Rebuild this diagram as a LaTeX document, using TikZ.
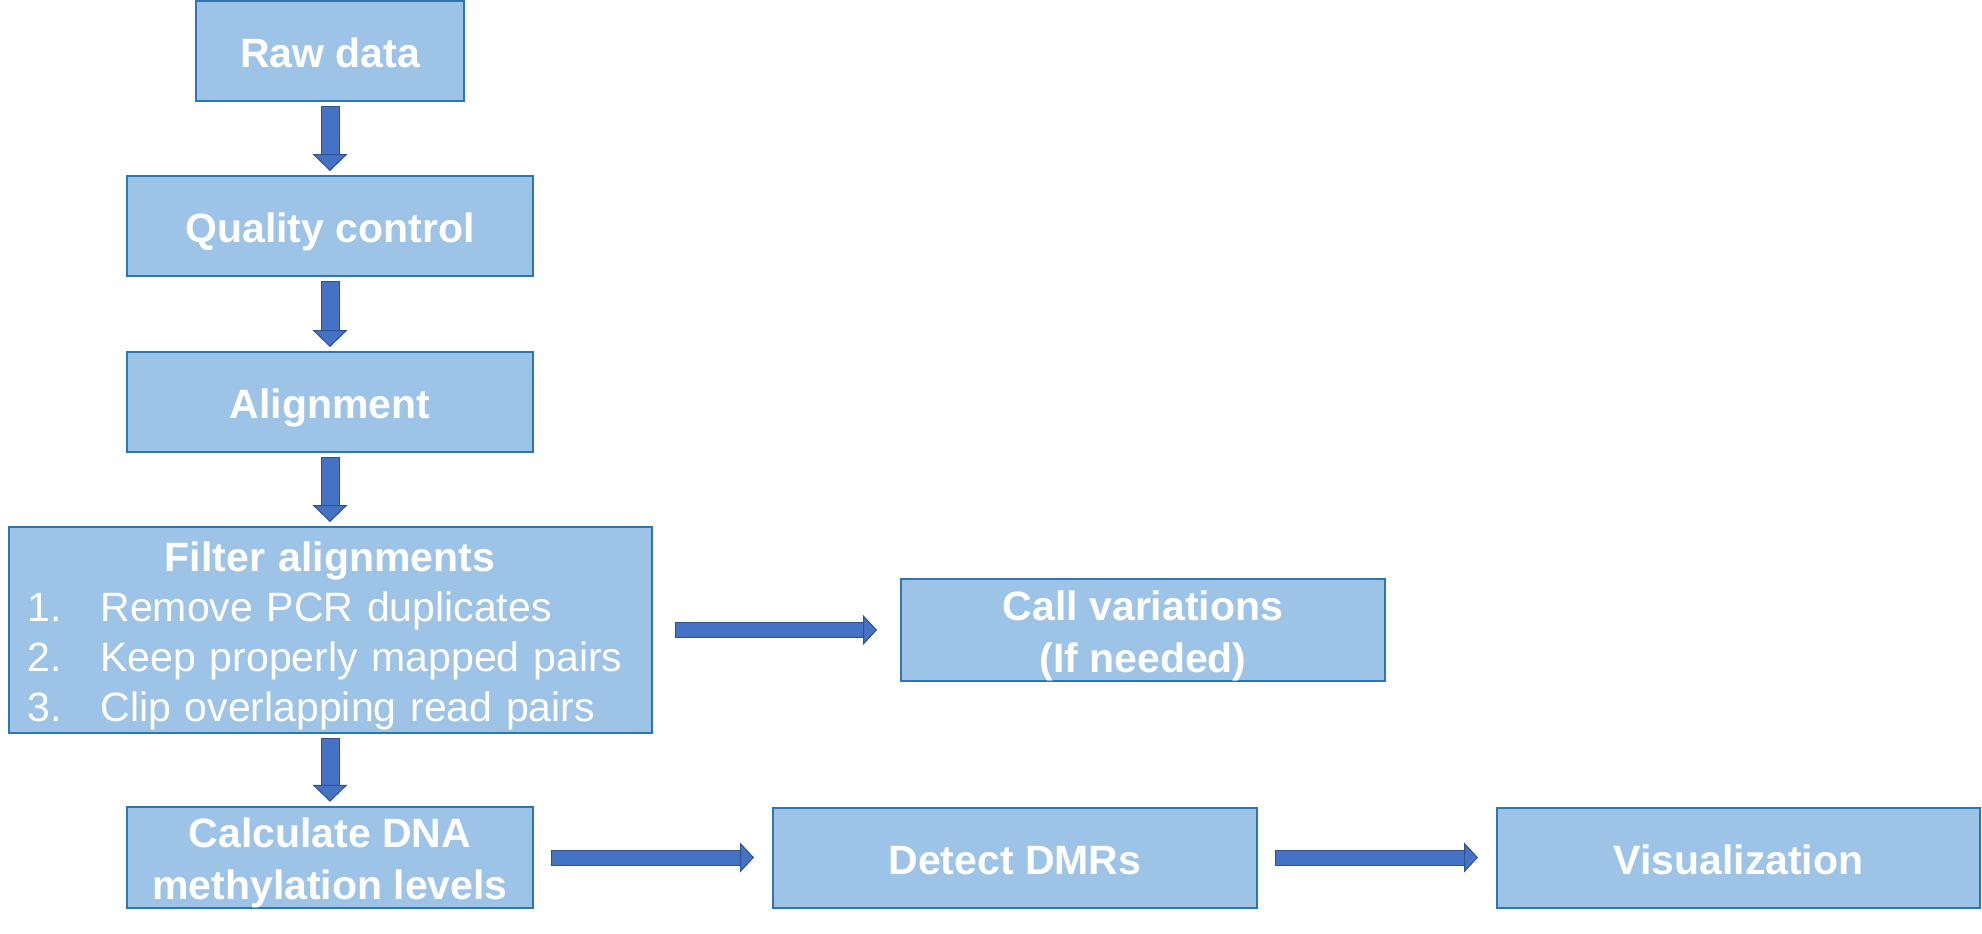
\documentclass[tikz,border=0pt]{standalone}
\usepackage{fontspec}
\setmainfont{Liberation Sans}
\usepackage{tikz}
\usetikzlibrary{arrows.meta}
\definecolor{boxfill}{RGB}{157,195,230}
\definecolor{boxline}{RGB}{46,117,182}
\definecolor{arrowfill}{RGB}{68,114,196}
\definecolor{arrowline}{RGB}{47,82,143}
\newcommand{\etai}{\rule[-8pt]{0pt}{49pt}}
\tikzstyle{bloc}=[
        rectangle,
        draw=boxline,
        line width=2pt,
        fill=boxfill,
        text=white,
        font=\fontsize{41}{52}\selectfont\bfseries,
        align=center,
        inner sep=0pt
]
\tikzstyle{liste}=[bloc,font=\fontsize{41}{50}\selectfont,align=left,text width=605pt,inner xsep=19pt]
\tikzstyle{fleche}=[draw=arrowfill,line width=17pt,shorten <=5pt,shorten >=4pt,
        -{Triangle[width=35pt,length=17pt,line width=1pt,color=arrowline,fill=arrowfill]},
        preaction={draw=arrowline,line width=19pt,arrows=-,shorten <=4pt,shorten >=20pt}]
\tikzset{flechedroite/.style={draw=arrowfill,line width=14pt,shorten <=#1,shorten >=#1,
        -{Triangle[width=30pt,length=14pt,line width=1pt,color=arrowline,fill=arrowfill]},
        preaction={draw=arrowline,line width=16pt,arrows=-,shorten <=#1-1pt,shorten >=#1+13pt}},
        flechedroite/.default=18pt}

\begin{document}
\begin{tikzpicture}[x=1pt,y=-1pt]
\useasboundingbox (0,0) rectangle (1982,934);
\node[bloc,minimum width=268pt,minimum height=100pt] (brut) at (330,51) {\etai Raw data};
\node[bloc,minimum width=406pt,minimum height=100pt] (qualite) at (330,226) {\etai Quality control};
\node[bloc,minimum width=406pt,minimum height=100pt] (alignement) at (330,402) {\etai Alignment};
\node[liste,minimum height=206pt] (filtre) at (330,630) {{\centering\bfseries\etai Filter alignments\par}
\makebox[73pt][l]{1.}Remove PCR duplicates\par
\makebox[73pt][l]{2.}Keep properly mapped pairs\par
\makebox[73pt][l]{3.}Clip overlapping read pairs\par};
\node[bloc,minimum width=406pt,minimum height=101pt] (calcul) at (330,857.5) {\etai Calculate DNA\\\etai methylation levels};
\node[bloc,minimum width=484pt,minimum height=102pt] (variation) at (1143,630) {\etai Call variations\\\etai(If needed)};
\node[bloc,minimum width=484pt,minimum height=100pt] (dmr) at (1015,857.5) {\etai Detect DMRs};
\node[bloc,minimum width=483pt,minimum height=100pt] (visu) at (1738.5,857.5) {\etai Visualization};
%Placement des fleches
\draw[fleche] (brut) -- (qualite);
\draw[fleche] (qualite) -- (alignement);
\draw[fleche] (alignement) -- (filtre);
\draw[fleche] (filtre) -- (calcul);
\draw[flechedroite=23pt] (filtre) -- (variation);
\draw[flechedroite] (calcul) -- (dmr);
\draw[flechedroite] (dmr) -- (visu);
\end{tikzpicture}
\end{document}
